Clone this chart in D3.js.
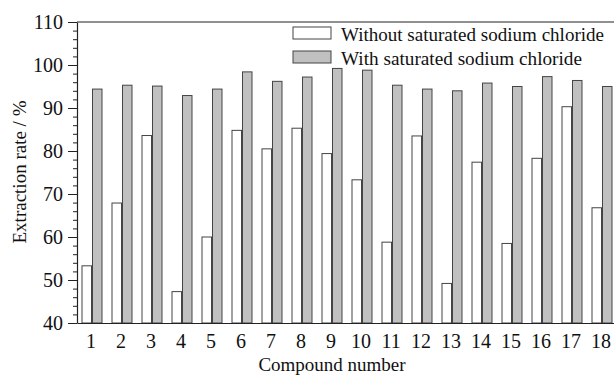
<!DOCTYPE html>
<html>
<head>
<meta charset="utf-8">
<script src="https://cdn.jsdelivr.net/npm/d3@7"></script>
<style>
  body { margin: 0; background: #fff; }
  text { font-family: "Liberation Serif", "Times New Roman", serif; fill: #111; }
</style>
</head>
<body>
<div class="chart"></div>
<script>
// compound numbers on the x axis
var compounds = ["1","2","3","4","5","6","7","8","9","10","11","12","13","14","15","16","17","18"];
// extraction rate (%)
var withoutNaCl = [53.3, 67.9, 83.6, 47.3, 60.0, 84.8, 80.5, 85.3, 79.4, 73.3, 58.8, 83.5, 49.2, 77.4, 58.5, 78.3, 90.3, 66.8];
var withNaCl    = [94.4, 95.3, 95.1, 92.9, 94.4, 98.4, 96.2, 97.2, 99.2, 98.8, 95.3, 94.4, 94.0, 95.8, 95.0, 97.3, 96.4, 95.0];
var seriesNames = ["Without saturated sodium chloride", "With saturated sodium chloride"];
var yTicks = [40, 50, 60, 70, 80, 90, 100, 110];

var W = 614, H = 376;
var margin = {top: 22, right: -3, bottom: 53, left: 77},
    width = W - margin.left - margin.right,
    height = H - margin.top - margin.bottom;

var svg = d3.select(".chart").append("svg")
    .attr("width", W)
    .attr("height", H)
  .append("g")
    .attr("transform", "translate(" + margin.left + "," + margin.top + ")");

var x = d3.scaleBand()
    .domain(compounds)
    .range([0, width])
    .paddingInner(0.3)
    .paddingOuter(0.15);

var xSub = d3.scaleBand()
    .domain([0, 1])
    .range([0, x.bandwidth()]);

var y = d3.scaleLinear()
    .domain([40, 110])
    .range([height, 0]);

var fills = ["#ffffff", "#c0c0c0"];

var rows = compounds.map(function(c, i) {
  return {name: c, vals: [withoutNaCl[i], withNaCl[i]]};
});

// bars
var groups = svg.selectAll(".grp")
    .data(rows)
  .enter().append("g")
    .attr("class", "grp")
    .attr("transform", function(d) { return "translate(" + x(d.name) + ",0)"; });

groups.selectAll("rect")
    .data(function(d) { return d.vals.map(function(v, k) { return {k: k, v: v}; }); })
  .enter().append("rect")
    .attr("x", function(d) { return xSub(d.k) + 0.5; })
    .attr("width", xSub.bandwidth() - 1)
    .attr("y", function(d) { return y(d.v); })
    .attr("height", function(d) { return height - y(d.v); })
    .attr("fill", function(d) { return fills[d.k]; })
    .attr("stroke", "#444")
    .attr("stroke-width", 1);

// minor ticks on y
var minor = d3.range(42, 110, 2).filter(function(v) { return v % 10 != 0; });
svg.append("g")
    .call(d3.axisLeft(y).tickValues(minor).tickSize(4).tickFormat(""))
    .call(function(g) { g.select(".domain").remove(); })
    .selectAll("line").attr("stroke", "#222");

// y axis
var yAxis = svg.append("g")
    .call(d3.axisLeft(y).tickValues(yTicks).tickSize(9).tickPadding(5).tickSizeOuter(0));
yAxis.selectAll("text").style("font-size", "20px").attr("dy", "0.34em");
yAxis.selectAll("line").attr("stroke", "#222");
yAxis.select(".domain").attr("stroke", "#222").attr("stroke-width", 1.2);

// x axis (no tick marks)
var xAxis = svg.append("g")
    .attr("transform", "translate(0," + height + ")")
    .call(d3.axisBottom(x).tickSize(0).tickPadding(11).tickSizeOuter(0));
xAxis.selectAll("text").style("font-size", "20px").attr("dx", "-0.05em");
xAxis.select(".domain").attr("stroke", "#222").attr("stroke-width", 1.2);

// top frame line
svg.append("line")
    .attr("x1", 0).attr("x2", width)
    .attr("y1", 0).attr("y2", 0)
    .attr("stroke", "#222")
    .attr("stroke-width", 1.2);

// axis titles
svg.append("text")
    .attr("x", 255)
    .attr("y", height + 48)
    .attr("text-anchor", "middle")
    .style("font-size", "19px")
    .text("Compound number");

svg.append("text")
    .attr("transform", "rotate(-90)")
    .attr("x", -150)
    .attr("y", -51)
    .attr("text-anchor", "middle")
    .style("font-size", "19px")
    .text("Extraction rate / %");

// legend
var legendWidths = [263, 241];
var legend = svg.selectAll(".legend")
    .data(seriesNames)
  .enter().append("g")
    .attr("class", "legend")
    .attr("transform", function(d, i) { return "translate(216," + (5 + i * 24) + ")"; });

legend.append("rect")
    .attr("width", 38)
    .attr("height", 12)
    .attr("fill", function(d, i) { return fills[i]; })
    .attr("stroke", "#444");

legend.append("text")
    .attr("x", 48)
    .attr("y", 14)
    .attr("textLength", function(d, i) { return legendWidths[i]; })
    .attr("lengthAdjust", "spacingAndGlyphs")
    .style("font-size", "19.5px")
    .text(function(d) { return d; });
</script>
</body>
</html>
